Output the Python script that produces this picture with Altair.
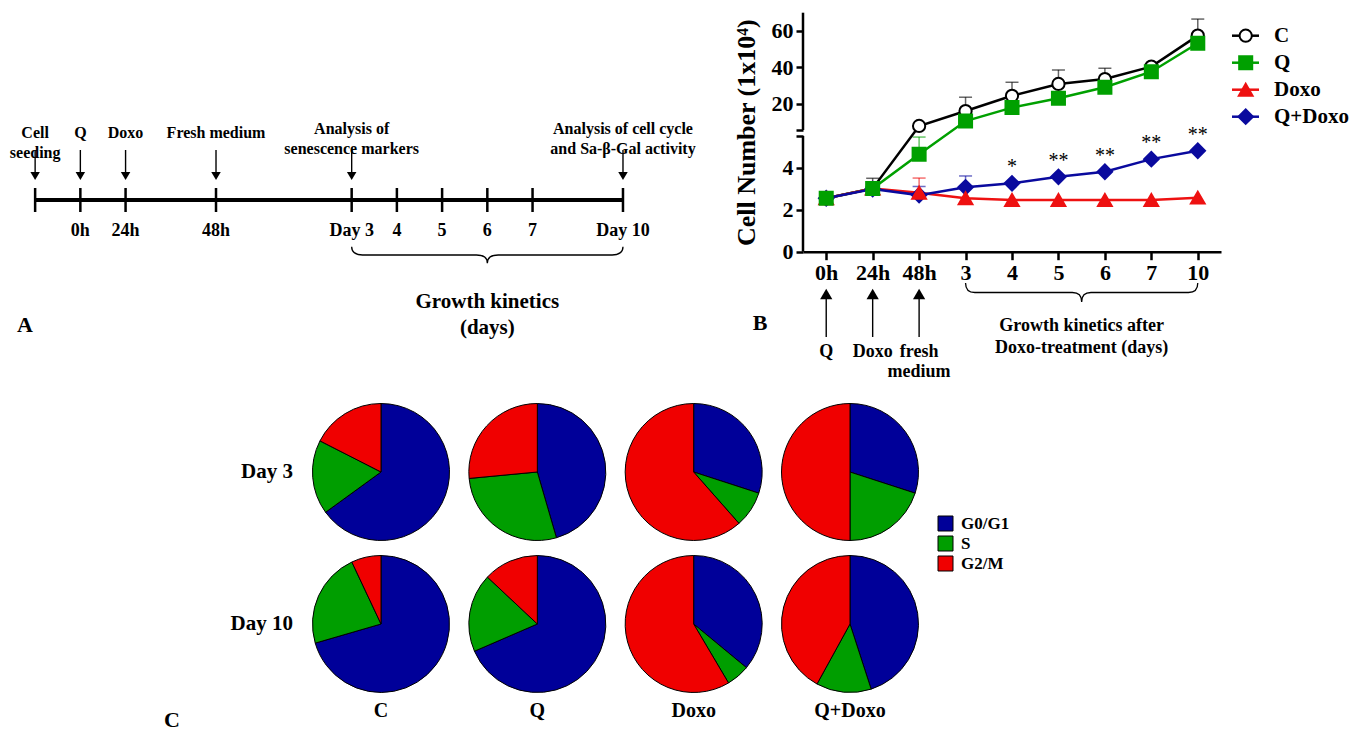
import altair as alt
import pandas as pd

FONT = "Liberation Serif"

# ---------------- Panel A : experimental timeline ----------------
A_POS = [0, 1, 2, 4, 7, 8, 9, 10, 11, 13]          # schematic spacing of the time line
A_BELOW = ["", "0h", "24h", "48h", "Day 3", "4", "5", "6", "7", "Day 10"]
A_EVENT_POS = [0, 1, 2, 4, 7, 13]
A_EVENT_TEXT = ["Cell\nseeding", "Q", "Doxo", "Fresh medium",
                "Analysis of\nsenescence markers",
                "Analysis of cell cycle\nand Sa-\u03b2-Gal activity"]
A_EVENT_KIND = ["treatment", "treatment", "treatment", "treatment", "analysis", "analysis"]
A_BRACE_TEXT = "Growth kinetics\n(days)"

# ---------------- Panel B : growth curves ----------------
B_X = ["0h", "24h", "48h", "3", "4", "5", "6", "7", "10"]
SERIES = ["C", "Q", "Doxo", "Q+Doxo"]
C_VALS = [2.54, 3.01, 7.8, 16.0, 24.4, 30.9, 33.6, 40.4, 57.4]
Q_VALS = [2.54, 3.0, 4.63, 10.5, 17.9, 23.0, 29.1, 37.6, 53.2]
DOXO_VALS = [2.54, 3.0, 2.8, 2.54, 2.46, 2.46, 2.46, 2.46, 2.57]
QDOXO_VALS = [2.54, 2.98, 2.69, 3.06, 3.25, 3.56, 3.80, 4.40, 4.80]
C_ERR_UP = [None, 3.49, None, 23.6, 31.8, 38.6, 39.5, None, 66.5]
Q_ERR_UP = [None, None, 5.45, None, None, None, None, None, None]
DOXO_ERR_UP = [None, None, 3.5, None, None, None, None, None, None]
QDOXO_ERR_UP = [None, None, 3.1, 3.6, None, None, None, None, None]
STARS = ["", "", "", "", "*", "**", "**", "**", "**"]
B_ARROW_DAYS = ["0h", "24h", "48h"]
B_ARROW_TEXT = ["Q", "Doxo", "fresh\nmedium"]
B_BRACE_TEXT = "Growth kinetics after\nDoxo-treatment (days)"
Y_TITLE = "Cell Number (1x10\u2074)"

# ---------------- Panel C : cell-cycle pies ----------------
GROUPS = ["C", "Q", "Doxo", "Q+Doxo"]
DAYS = ["Day 3", "Day 10"]
PHASES = ["G0/G1", "S", "G2/M"]
D3_G0G1 = [65.0, 45.5, 30.0, 30.0]
D3_S = [17.5, 28.0, 8.5, 20.0]
D3_G2M = [17.5, 26.5, 61.5, 50.0]
D10_G0G1 = [70.5, 68.5, 36.0, 45.0]
D10_S = [22.5, 18.5, 5.5, 13.0]
D10_G2M = [7.0, 13.0, 58.5, 42.0]

SERIES_STROKE = ["black", "#00A000", "#EE1111", "#0A0A9E"]
SERIES_FILL = ["white", "#00A000", "#EE1111", "#0A0A9E"]
SERIES_SHAPE = ["circle", "square", "triangle-up", "diamond"]
SERIES_SIZE = [150, 210, 190, 170]
PIE_COLORS = ["#000099", "#009E00", "#F00000"]


def brace_path(h):
    return (f"M -1 {-h} Q -1 0 -0.92 0 L -0.08 0 Q 0 0 0 {h} "
            f"Q 0 0 0.08 0 L 0.92 0 Q 1 0 1 {-h}")


def txt(**kw):
    base = dict(font=FONT, fontWeight="bold", color="black", baseline="middle")
    base.update(kw)
    return base


# ======================= Panel A =======================
A_W, A_H = 700, 384
a_dom = [-0.6, 14.88]
px_per_unit = A_W / (a_dom[1] - a_dom[0])
ax = alt.Scale(domain=a_dom, nice=False, zero=False)

tl = pd.DataFrame({"pos": A_POS, "below": A_BELOW})
ev = pd.DataFrame({"pos": A_EVENT_POS, "label": A_EVENT_TEXT, "kind": A_EVENT_KIND})
span = pd.DataFrame({"start": [min(A_POS)], "end": [max(A_POS)]})
brace_a_df = pd.DataFrame({"mid": [(A_POS[4] + A_POS[-1]) / 2], "t": [A_BRACE_TEXT]})
brace_a_w = (A_POS[-1] - A_POS[4]) * px_per_unit

xa = alt.X("pos:Q", scale=ax, axis=None)
a_line = alt.Chart(span).mark_rule(strokeWidth=4, color="black").encode(
    x=alt.X("start:Q", scale=ax, axis=None), x2="end:Q", y=alt.value(192))
a_ticks = alt.Chart(tl).mark_rule(strokeWidth=2.5, color="black").encode(
    x=xa, y=alt.value(180), y2=alt.value(204))
a_below = alt.Chart(tl).transform_filter("datum.below != ''").mark_text(
    **txt(fontSize=18)).encode(x=xa, y=alt.value(223), text="below:N")
a_shaft = alt.Chart(ev).mark_rule(strokeWidth=1.4, color="black").encode(
    x=xa, y=alt.value(142), y2=alt.value(166))
a_head = alt.Chart(ev).mark_point(shape="triangle-down", filled=True, size=90,
                                  color="black", opacity=1).encode(x=xa, y=alt.value(168))
a_lab_t = alt.Chart(ev).transform_filter("datum.kind == 'treatment'").mark_text(
    **txt(fontSize=16, lineBreak="\n", lineHeight=20)).encode(
    x=xa, y=alt.value(125), text="label:N")
a_lab_a = alt.Chart(ev).transform_filter("datum.kind == 'analysis'").mark_text(
    **txt(fontSize=16, lineBreak="\n", lineHeight=20)).encode(
    x=xa, y=alt.value(121), text="label:N")
a_brace = alt.Chart(brace_a_df).mark_point(
    shape=brace_path(0.06), size=brace_a_w ** 2, filled=False, stroke="black",
    strokeWidth=1.3, opacity=1).encode(x=alt.X("mid:Q", scale=ax, axis=None), y=alt.value(247))
a_brace_t = alt.Chart(brace_a_df).mark_text(
    **txt(fontSize=21, lineBreak="\n", lineHeight=26)).encode(
    x=alt.X("mid:Q", scale=ax, axis=None), y=alt.value(294), text="t:N")
a_letter = alt.Chart(pd.DataFrame({"t": ["A"]})).mark_text(**txt(fontSize=22)).encode(
    x=alt.value(17), y=alt.value(317), text="t:N")

panel_a = alt.layer(a_line, a_ticks, a_below, a_shaft, a_head, a_lab_t, a_lab_a,
                    a_brace, a_brace_t, a_letter).properties(width=A_W, height=A_H)

# ======================= Panel B =======================
B_W, B_H = 418, 243.7
step = B_W / len(B_X)
bx = alt.Scale(type="point", domain=B_X, padding=0.5)
by = alt.Scale(domain=[0, 5.5, 5.6, 70], range=[B_H, 128, 122, 4.7], nice=False, zero=False)

x_axis = alt.Axis(title=None, labelAngle=0, labelFont=FONT, labelFontSize=22,
                  labelFontWeight="bold", labelColor="black", labelPadding=3,
                  tickSize=8, tickWidth=2.5, tickColor="black", domainWidth=2.5,
                  domainColor="black", grid=False)
y_axis = alt.Axis(values=[0, 2, 4, 5.5, 5.6, 20, 40, 60],
                  labelExpr="(datum.value == 5.5 || datum.value == 5.6) ? '' : datum.label",
                  domain=False, grid=False, tickSize=7, tickWidth=2.5, tickColor="black",
                  labelFont=FONT, labelFontSize=22, labelFontWeight="bold",
                  labelColor="black", labelPadding=3, titleFont=FONT, titleFontSize=26,
                  titleFontWeight="bold", titleColor="black", titlePadding=12)


def bxe():
    return alt.X("day:N", scale=bx, sort=B_X, axis=x_axis)


def bye(field):
    return alt.Y(f"{field}:Q", scale=by, axis=y_axis, title=Y_TITLE)


stroke_scale = alt.Scale(domain=SERIES, range=SERIES_STROKE)
fill_scale = alt.Scale(domain=SERIES, range=SERIES_FILL)
shape_scale = alt.Scale(domain=SERIES, range=SERIES_SHAPE)
size_scale = alt.Scale(domain=SERIES, range=SERIES_SIZE)

rows, erows = [], []
for s, vals, errs in zip(SERIES, [C_VALS, Q_VALS, DOXO_VALS, QDOXO_VALS],
                         [C_ERR_UP, Q_ERR_UP, DOXO_ERR_UP, QDOXO_ERR_UP]):
    for d, v, e in zip(B_X, vals, errs):
        rows.append({"series": s, "day": d, "value": v})
        if e is not None:
            erows.append({"series": s, "day": d, "value": v, "upper": e})
bdf = pd.DataFrame(rows)
edf = pd.DataFrame(erows)
star_df = pd.DataFrame({"day": B_X, "value": QDOXO_VALS, "star": STARS})
seg_df = pd.DataFrame({"lo": [0, 5.6], "hi": [5.5, 70]})

b_seg = alt.Chart(seg_df).mark_rule(strokeWidth=2.5, color="black").encode(
    x=alt.value(0), y=bye("lo"), y2="hi:Q")
b_err = alt.Chart(edf).mark_rule(strokeWidth=1.5, opacity=0.6).encode(
    x=bxe(), y=bye("value"), y2="upper:Q",
    color=alt.Color("series:N", scale=stroke_scale, legend=None))
b_cap = alt.Chart(edf).mark_tick(thickness=1.5, size=13, opacity=0.6).encode(
    x=bxe(), y=bye("upper"), color=alt.Color("series:N", scale=stroke_scale, legend=None))
b_lines = alt.Chart(bdf).mark_line(strokeWidth=2.5).encode(
    x=bxe(), y=bye("value"), color=alt.Color("series:N", scale=stroke_scale, legend=None))
b_pts = alt.Chart(bdf).transform_calculate(
    z="indexof(['C','Q+Doxo','Doxo','Q'], datum.series)"
).mark_point(filled=True, opacity=1, strokeWidth=2).encode(
    x=bxe(), y=bye("value"),
    shape=alt.Shape("series:N", scale=shape_scale, legend=None),
    fill=alt.Fill("series:N", scale=fill_scale, legend=None),
    stroke=alt.Stroke("series:N", scale=stroke_scale, legend=None),
    size=alt.Size("series:N", scale=size_scale, legend=None),
    order=alt.Order("z:Q"))
b_stars = alt.Chart(star_df).transform_filter("datum.star != ''").mark_text(
    font=FONT, fontSize=20, color="black", baseline="middle", dy=-16).encode(
    x=bxe(), y=bye("value"), text="star:N")

arr_df = pd.DataFrame({"day": B_ARROW_DAYS, "label": B_ARROW_TEXT})
b_shaft = alt.Chart(arr_df).mark_rule(strokeWidth=1.4, color="black").encode(
    x=bxe(), y=alt.value(289), y2=alt.value(329))
b_head = alt.Chart(arr_df).mark_point(shape="triangle-up", filled=True, size=150,
                                      color="black", opacity=1).encode(x=bxe(), y=alt.value(286))
b_arr_t = alt.Chart(arr_df).mark_text(
    **txt(fontSize=18, baseline="top", lineBreak="\n", lineHeight=20)).encode(
    x=bxe(), y=alt.value(335), text="label:N")

i3, i10 = B_X.index("3"), B_X.index("10")
brace_mid = step * (0.5 + (i3 + i10) / 2)
brace_w = step * (i10 - i3)
brace_b_df = pd.DataFrame({"t": [B_BRACE_TEXT]})
b_brace = alt.Chart(brace_b_df).mark_point(
    shape=brace_path(0.082), size=brace_w ** 2, filled=False, stroke="black",
    strokeWidth=1.3, opacity=1).encode(x=alt.value(brace_mid), y=alt.value(284.5))
b_brace_t = alt.Chart(brace_b_df).mark_text(
    **txt(fontSize=18, lineBreak="\n", lineHeight=22)).encode(
    x=alt.value(brace_mid), y=alt.value(318), text="t:N")
b_letter = alt.Chart(pd.DataFrame({"t": ["B"]})).mark_text(**txt(fontSize=22)).encode(
    x=alt.value(-43), y=alt.value(315), text="t:N")

legend_layers = []
for i, s in enumerate(SERIES):
    ly = 27.7 + i * 27
    one = alt.Chart(pd.DataFrame({"series": [s]}))
    legend_layers.append(one.mark_rule(strokeWidth=2.5).encode(
        x=alt.value(429), x2=alt.value(456), y=alt.value(ly),
        color=alt.Color("series:N", scale=stroke_scale, legend=None)))
    legend_layers.append(one.mark_point(filled=True, opacity=1, strokeWidth=2).encode(
        x=alt.value(442.7), y=alt.value(ly),
        shape=alt.Shape("series:N", scale=shape_scale, legend=None),
        fill=alt.Fill("series:N", scale=fill_scale, legend=None),
        stroke=alt.Stroke("series:N", scale=stroke_scale, legend=None),
        size=alt.Size("series:N", scale=size_scale, legend=None)))
    legend_layers.append(one.mark_text(**txt(fontSize=21, align="left")).encode(
        x=alt.value(471), y=alt.value(ly), text="series:N"))

panel_b = alt.layer(b_seg, b_err, b_cap, b_lines, b_pts, b_stars, b_shaft, b_head,
                    b_arr_t, b_brace, b_brace_t, b_letter, *legend_layers
                    ).properties(width=B_W, height=B_H)

# ======================= Panel C =======================
C_W, C_H = 1010, 336
pie_rows = []
for day, arrs in zip(DAYS, [(D3_G0G1, D3_S, D3_G2M), (D10_G0G1, D10_S, D10_G2M)]):
    for gi, g in enumerate(GROUPS):
        for ph, arr in zip(PHASES, arrs):
            pie_rows.append({"day": day, "group": g, "phase": ph, "pct": arr[gi]})
pies_df = pd.DataFrame(pie_rows)

cx = alt.Scale(type="point", domain=GROUPS, range=[373, 842], padding=0)
cy = alt.Scale(type="point", domain=DAYS, range=[80, 232], padding=0)

c_pies = alt.Chart(pies_df).transform_calculate(
    order="indexof(['G0/G1','S','G2/M'], datum.phase)"
).transform_stack(
    stack="pct", as_=["t0", "t1"], groupby=["day", "group"],
    sort=[alt.SortField("order")], offset="normalize"
).mark_arc(radius=68.5, stroke="black", strokeWidth=1).encode(
    x=alt.X("group:N", scale=cx, axis=None),
    y=alt.Y("day:N", scale=cy, axis=None),
    theta=alt.Theta("t0:Q", scale=alt.Scale(domain=[0, 1])),
    theta2="t1:Q",
    color=alt.Color("phase:N", scale=alt.Scale(domain=PHASES, range=PIE_COLORS),
                    legend=alt.Legend(orient="none", legendX=929, legendY=123, title=None,
                                      symbolType="square", symbolSize=225,
                                      symbolStrokeColor="black", symbolStrokeWidth=1,
                                      symbolOpacity=1,
                                      labelFont=FONT, labelFontSize=17,
                                      labelFontWeight="bold", labelColor="black",
                                      rowPadding=1, labelOffset=7, padding=0)))
c_rows = alt.Chart(pd.DataFrame({"day": DAYS})).mark_text(
    **txt(fontSize=21, align="right")).encode(
    y=alt.Y("day:N", scale=cy, axis=None), x=alt.value(285), text="day:N")
c_cols = alt.Chart(pd.DataFrame({"group": GROUPS})).mark_text(**txt(fontSize=20)).encode(
    x=alt.X("group:N", scale=cx, axis=None), y=alt.value(319), text="group:N")
c_letter = alt.Chart(pd.DataFrame({"t": ["C"]})).mark_text(**txt(fontSize=22)).encode(
    x=alt.value(164), y=alt.value(328), text="t:N")

panel_c = alt.layer(c_pies, c_rows, c_cols, c_letter).properties(width=C_W, height=C_H)

top_row = alt.hconcat(panel_a, panel_b, spacing=25).resolve_scale(
    x="independent", y="independent", color="independent")
chart = alt.vconcat(top_row, panel_c, spacing=0).resolve_scale(
    x="independent", y="independent", color="independent"
).resolve_legend(color="independent").properties(
    padding=0, background="white"
).configure(font=FONT).configure_view(strokeWidth=0, stroke=None)

chart.save("out.html", embed_options={"renderer": "svg", "actions": False})
